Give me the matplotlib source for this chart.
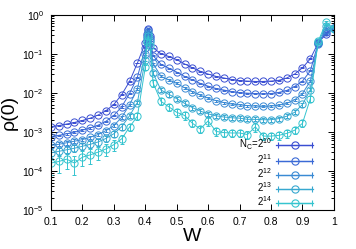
import numpy as np
import matplotlib
matplotlib.use("Agg")
import matplotlib.pyplot as plt
from matplotlib.container import ErrorbarContainer
from matplotlib.legend_handler import HandlerErrorbar
from matplotlib.ticker import LogLocator, NullFormatter

plt.rcParams['font.family'] = ['Liberation Sans', 'DejaVu Sans']
plt.rcParams['mathtext.default'] = 'regular'

# disorder strength W
w = [0.1, 0.125, 0.15, 0.175, 0.2, 0.225, 0.25, 0.275, 0.3, 0.325, 0.35, 0.375,
     0.4, 0.405, 0.41, 0.415,
     0.425, 0.45, 0.475, 0.5, 0.525, 0.55, 0.575, 0.6, 0.625, 0.65, 0.675,
     0.7, 0.725, 0.75, 0.775, 0.8, 0.825, 0.85, 0.875, 0.9, 0.925, 0.95, 0.975, 1.0]

# log10 rho(0), one list per N_C
log_rho_2_10 = [-2.87, -2.84, -2.80, -2.76, -2.71, -2.65, -2.57, -2.46, -2.30, -2.05, -1.71, -1.24,
                -0.72, -0.50, -0.36, -0.55,
                -0.85, -1.00, -1.07, -1.15, -1.26, -1.36, -1.45, -1.52, -1.58, -1.62, -1.66,
                -1.69, -1.70, -1.71, -1.71, -1.70, -1.68, -1.62, -1.52, -1.36, -1.13, -0.72, -0.50, -0.34]
log_rho_2_11 = [-3.12, -3.09, -3.05, -3.01, -2.96, -2.90, -2.83, -2.73, -2.58, -2.36, -2.02, -1.60,
                -0.85, -0.55, -0.40, -0.60,
                -1.05, -1.27, -1.37, -1.47, -1.58, -1.67, -1.76, -1.83, -1.89, -1.93, -1.97,
                -2.00, -2.01, -2.02, -2.03, -2.02, -1.99, -1.94, -1.84, -1.70, -1.44, -0.72, -0.45, -0.35]
log_rho_2_12 = [-3.35, -3.32, -3.28, -3.24, -3.20, -3.14, -3.07, -2.97, -2.84, -2.63, -2.31, -1.90,
                -1.00, -0.60, -0.45, -0.65,
                -1.25, -1.58, -1.67, -1.76, -1.87, -1.97, -2.06, -2.14, -2.20, -2.25, -2.29,
                -2.31, -2.33, -2.34, -2.35, -2.34, -2.32, -2.27, -2.18, -2.02, -1.70, -0.74, -0.38, -0.34]
log_rho_2_13 = [-3.54, -3.50, -3.46, -3.42, -3.37, -3.32, -3.26, -3.17, -3.05, -2.87, -2.59, -2.25,
                -1.15, -0.65, -0.50, -0.70,
                -1.50, -1.93, -2.04, -2.15, -2.27, -2.38, -2.47, -2.54, -2.59, -2.62, -2.64,
                -2.65, -2.68, -2.68, -2.69, -2.69, -2.66, -2.60, -2.50, -2.30, -1.92, -0.70, -0.30, -0.33]
log_rho_2_14 = [-3.80, -3.76, -3.70, -3.80, -3.65, -3.59, -3.52, -3.44, -3.33, -3.18, -2.88, -2.60,
                -1.35, -0.70, -0.55, -0.80,
                -1.75, -2.22, -2.36, -2.50, -2.58, -2.78, -2.93, -2.72, -2.99, -3.02, -3.03,
                -3.03, -3.07, -2.87, -3.11, -3.11, -3.09, -3.04, -2.96, -2.78, -2.15, -0.68, -0.20, -0.36]

# relative error bars
rel_err_2_10 = [0.02, 0.02, 0.02, 0.02, 0.02, 0.02, 0.02, 0.02, 0.02, 0.02, 0.02, 0.02,
                0.02, 0.02, 0.02, 0.02,
                0.02, 0.02, 0.02, 0.02, 0.02, 0.02, 0.02, 0.02, 0.02, 0.02, 0.02,
                0.02, 0.02, 0.02, 0.02, 0.02, 0.02, 0.02, 0.02, 0.02, 0.02, 0.02, 0.02, 0.02]
rel_err_2_11 = [0.05, 0.05, 0.05, 0.05, 0.05, 0.04, 0.04, 0.04, 0.04, 0.04, 0.03, 0.03,
                0.03, 0.03, 0.03, 0.03,
                0.03, 0.03, 0.03, 0.03, 0.03, 0.03, 0.03, 0.03, 0.03, 0.03, 0.03,
                0.03, 0.03, 0.03, 0.03, 0.03, 0.03, 0.03, 0.03, 0.03, 0.03, 0.03, 0.03, 0.03]
rel_err_2_12 = [0.12, 0.12, 0.12, 0.11, 0.10, 0.10, 0.09, 0.08, 0.08, 0.07, 0.06, 0.05,
                0.05, 0.05, 0.05, 0.05,
                0.06, 0.06, 0.06, 0.06, 0.06, 0.06, 0.06, 0.06, 0.06, 0.06, 0.06,
                0.06, 0.06, 0.06, 0.06, 0.06, 0.06, 0.06, 0.06, 0.06, 0.06, 0.05, 0.05, 0.05]
rel_err_2_13 = [0.25, 0.25, 0.24, 0.22, 0.22, 0.20, 0.20, 0.18, 0.16, 0.15, 0.12, 0.10,
                0.08, 0.08, 0.08, 0.08,
                0.12, 0.12, 0.12, 0.12, 0.12, 0.12, 0.12, 0.12, 0.12, 0.12, 0.12,
                0.12, 0.12, 0.12, 0.12, 0.12, 0.12, 0.12, 0.12, 0.12, 0.10, 0.08, 0.08, 0.08]
rel_err_2_14 = [0.50, 0.48, 0.45, 0.50, 0.42, 0.40, 0.38, 0.35, 0.30, 0.25, 0.20, 0.18,
                0.12, 0.10, 0.10, 0.10,
                0.20, 0.20, 0.20, 0.22, 0.22, 0.22, 0.22, 0.25, 0.22, 0.22, 0.22,
                0.22, 0.22, 0.25, 0.22, 0.22, 0.22, 0.22, 0.22, 0.22, 0.20, 0.10, 0.10, 0.10]

series = [log_rho_2_10, log_rho_2_11, log_rho_2_12, log_rho_2_13, log_rho_2_14]
errors = [rel_err_2_10, rel_err_2_11, rel_err_2_12, rel_err_2_13, rel_err_2_14]
labels = ['N$_C$=2$^{10}$', '2$^{11}$', '2$^{12}$', '2$^{13}$', '2$^{14}$']
colors = ['#3a4ed2', '#3b6ad6', '#3a8ad4', '#37a8d0', '#35c4cf']

x_ticks = [0.1, 0.2, 0.3, 0.4, 0.5, 0.6, 0.7, 0.8, 0.9, 1.0]
x_ticklabels = ['0.1', '0.2', '0.3', '0.4', '0.5', '0.6', '0.7', '0.8', '0.9', '1']

fig = plt.figure(figsize=(3.56, 2.49), dpi=100)
ax = fig.add_axes([0.143, 0.157, 0.795, 0.784])

style = dict(marker='o', ms=5.2, mfc='none', mew=0.7, lw=0.7,
             elinewidth=0.7, capsize=1.6, capthick=0.7)

for logs, errs, col in zip(series, errors, colors):
    rho = 10.0 ** np.array(logs)
    ax.errorbar(w, rho, yerr=rho * np.array(errs), color=col, **style)

# legend proxies: gnuplot draws the key as |--o--|
handles = []
for col, lab in zip(colors, labels):
    h = ax.errorbar([np.nan], [np.nan], xerr=[np.nan], color=col, label=lab,
                    marker='o', ms=5.2, mfc='none', mew=0.8, lw=0.9,
                    elinewidth=0.9, capsize=2.2, capthick=0.9)
    handles.append(h)

leg = ax.legend(handles=handles,
                handler_map={ErrorbarContainer: HandlerErrorbar(xerr_size=1.75)},
                markerfirst=False, loc='lower right', bbox_to_anchor=(0.955, -0.03),
                frameon=False, fontsize=7.0, handlelength=3.8, handletextpad=0.45,
                labelspacing=0.02, borderpad=0.3, numpoints=1)
for col_box in leg._legend_handle_box.get_children():
    col_box.align = 'right'

ax.set_xlim(0.1, 1.0)
ax.set_yscale('log')
ax.set_ylim(1e-5, 1)
ax.set_xticks(x_ticks)
ax.set_xticklabels(x_ticklabels)
ax.yaxis.set_major_locator(LogLocator(base=10, numticks=10))
ax.yaxis.set_minor_locator(LogLocator(base=10, subs=np.arange(2, 10), numticks=10))
ax.yaxis.set_minor_formatter(NullFormatter())

ax.tick_params(which='both', direction='in', top=True, right=True, width=0.7)
ax.tick_params(which='major', length=4, labelsize=7.5, pad=5)
ax.tick_params(which='minor', length=2)
for sp in ax.spines.values():
    sp.set_linewidth(0.8)

ax.set_xlabel('W', fontsize=14, labelpad=1)
ax.set_ylabel('ρ(0)', fontsize=14, labelpad=3)

fig.savefig('out.png', dpi=100)
